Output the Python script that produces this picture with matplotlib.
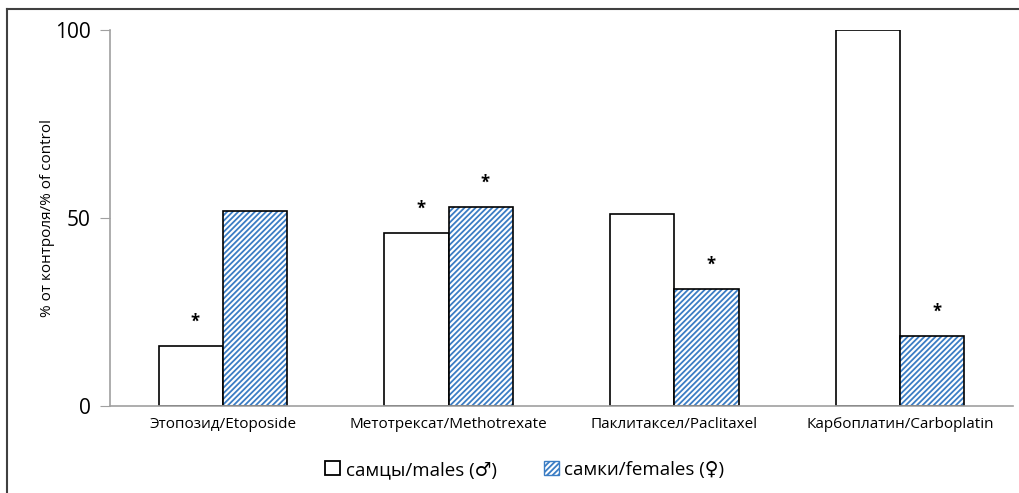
import matplotlib.pyplot as plt
from matplotlib.patches import Patch
from matplotlib.lines import Line2D
import numpy as np

plt.rcParams['font.family'] = ['Open Sans', 'DejaVu Sans']
plt.rcParams['hatch.linewidth'] = 1.3

drugs = ["Этопозид/Etoposide", "Метотрексат/Methotrexate",
         "Паклитаксел/Paclitaxel", "Карбоплатин/Carboplatin"]
males = [16, 46, 51, 100]
females = [52, 53, 31, 18.5]
# significance marks (True = asterisk above the bar)
males_sig = [True, True, False, False]
females_sig = [False, True, True, True]

hatch_blue = '#3b7dc4'

fig = plt.figure(figsize=(10.19, 4.93), dpi=100)
ax = fig.add_axes([0.108, 0.1765, 0.886, 0.7625])

x = np.arange(len(drugs))
w = 0.285
ax.bar(x - w/2, males, w, color='white', edgecolor='black', linewidth=1.2)
# hatch first (hatch takes the edge colour), then the black outline
ax.bar(x + w/2, females, w, color='white', edgecolor=hatch_blue, linewidth=0,
       hatch='//////')
ax.bar(x + w/2, females, w, fill=False, edgecolor='black', linewidth=1.2)

for i in range(len(drugs)):
    if males_sig[i]:
        ax.text(x[i] - w/2 + 0.02, males[i] + 6.5, "*", ha='center', va='center',
                fontsize=12, fontweight='bold')
    if females_sig[i]:
        ax.text(x[i] + w/2 + 0.02, females[i] + 6.5, "*", ha='center', va='center',
                fontsize=12, fontweight='bold')

ax.set_xlim(-0.5, len(drugs) - 0.5)
ax.set_ylim(0, 100)
ax.set_yticks([0, 50, 100])
ax.tick_params(axis='y', labelsize=15, color='#a0a0a0', length=7, pad=7)
ax.tick_params(axis='x', length=0, labelsize=11, pad=8)
ax.set_xticks(x)
ax.set_xticklabels(drugs)
ax.set_ylabel("% от контроля/% of control", fontsize=11, labelpad=0)
for s in ['top', 'right']:
    ax.spines[s].set_visible(False)
for s in ['left', 'bottom']:
    ax.spines[s].set_color('#a0a0a0')
    ax.spines[s].set_linewidth(1.2)

handles = [Patch(facecolor='white', edgecolor='black', linewidth=1.3, label="самцы/males (♂)"),
           Patch(facecolor='white', edgecolor=hatch_blue, hatch='//////',
                 label="самки/females (♀)")]
fig.legend(handles=handles, loc='center', bbox_to_anchor=(0.515, 0.047), ncol=2,
           frameon=False, fontsize=13.5, handlelength=0.8, handleheight=0.8,
           handletextpad=0.3, columnspacing=2.5)

# outer frame
fig.add_artist(Line2D([0.007, 0.007], [0, 0.982], color='#404040', lw=1.5, transform=fig.transFigure))
fig.add_artist(Line2D([0.007, 1], [0.982, 0.982], color='#404040', lw=1.5, transform=fig.transFigure))

fig.savefig("out.png", dpi=100)
